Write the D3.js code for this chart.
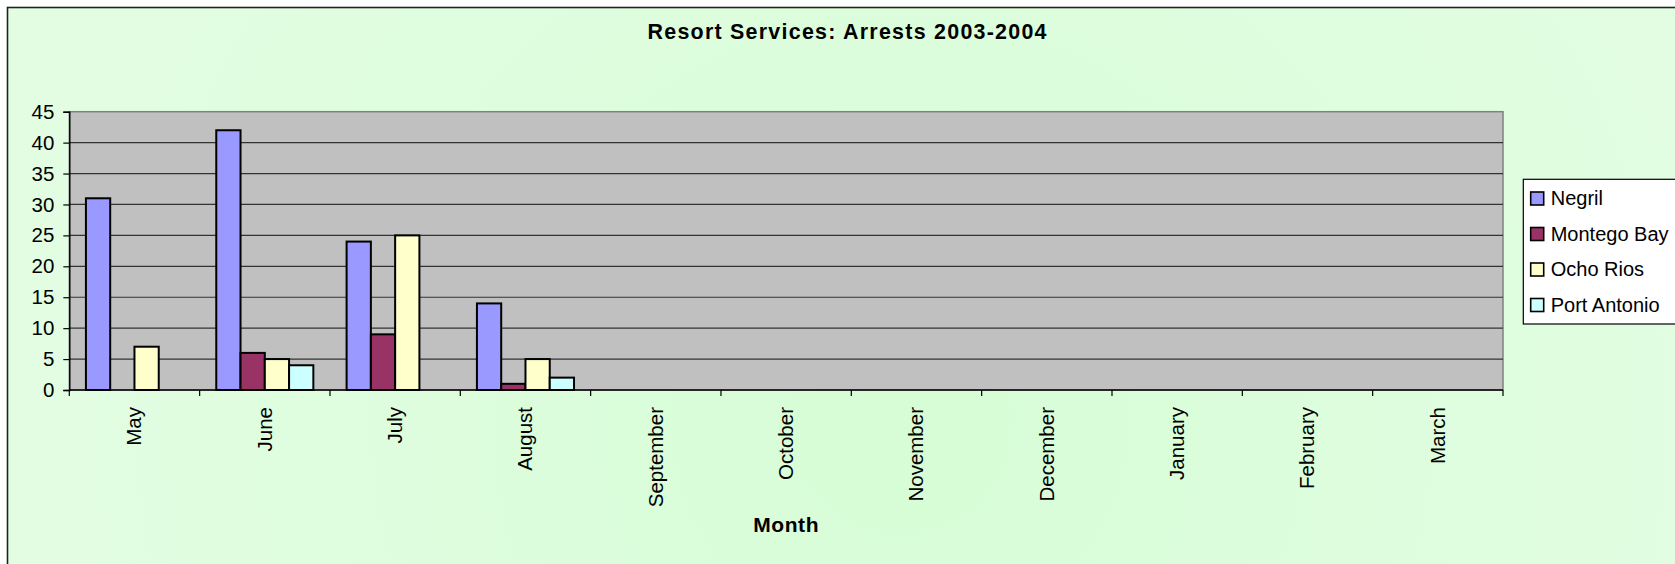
<!DOCTYPE html>
<html>
<head>
<meta charset="utf-8">
<script src="https://cdn.jsdelivr.net/npm/d3@7"></script>
<style>
  html, body { margin: 0; padding: 0; background: #ffffff; }
  svg { display: block; font-family: "Liberation Sans", Arial, sans-serif; }
</style>
</head>
<body>
<svg id="chart" width="1675" height="564"></svg>
<script>
// Monthly arrests by resort area
const months = ["May", "June", "July", "August", "September", "October",
                "November", "December", "January", "February", "March"];
const seriesNames = ["Negril", "Montego Bay", "Ocho Rios", "Port Antonio"];
const negril      = [31, 42, 24, 14, null, null, null, null, null, null, null];
const montegoBay  = [0, 6, 9, 1, null, null, null, null, null, null, null];
const ochoRios    = [7, 5, 25, 5, null, null, null, null, null, null, null];
const portAntonio = [0, 4, 0, 2, null, null, null, null, null, null, null];
const yTicks = [0, 5, 10, 15, 20, 25, 30, 35, 40, 45];
const seriesColors = ["#9999FF", "#993366", "#FFFFCC", "#CCFFFF"];

const chartTitle = "Resort Services: Arrests 2003-2004";
const xTitle = "Month";

const seriesValues = [negril, montegoBay, ochoRios, portAntonio];

const svg = d3.select("#chart");

// Chart area background with a soft green wash
const defs = svg.append("defs");
const grad = defs.append("radialGradient")
  .attr("id", "bgWash")
  .attr("gradientUnits", "userSpaceOnUse")
  .attr("cx", 900).attr("cy", 420).attr("r", 900);
grad.append("stop").attr("offset", "0%").attr("stop-color", "#D6FDD6");
grad.append("stop").attr("offset", "55%").attr("stop-color", "#DEFDDE");
grad.append("stop").attr("offset", "100%").attr("stop-color", "#E3FDE3");

svg.append("rect")
  .attr("x", 7.5).attr("y", 7.5)
  .attr("width", 1700).attr("height", 600)
  .attr("fill", "url(#bgWash)")
  .attr("stroke", "#222")
  .attr("stroke-width", 1.6);

// Plot area geometry
const plot = { left: 69.3, right: 1503, top: 111.7, bottom: 390 };

const x = d3.scaleBand()
  .domain(months)
  .range([plot.left, plot.right])
  .paddingInner(0).paddingOuter(0);

const gapRatio = 1.37;
const barW = x.bandwidth() / (seriesNames.length + gapRatio);
const xSeries = d3.scaleBand()
  .domain(seriesNames)
  .range([barW * gapRatio / 2, barW * gapRatio / 2 + barW * seriesNames.length])
  .padding(0);

const y = d3.scaleLinear()
  .domain([0, 45])
  .range([plot.bottom, plot.top]);

// Grey plot background
svg.append("rect")
  .attr("x", plot.left).attr("y", plot.top)
  .attr("width", plot.right - plot.left)
  .attr("height", plot.bottom - plot.top)
  .attr("fill", "#C0C0C0")
  .attr("stroke", "#808080")
  .attr("stroke-width", 1.5);

// Horizontal gridlines
svg.append("g")
  .selectAll("line")
  .data(yTicks.filter(d => d > 0 && d < 45))
  .join("line")
  .attr("x1", plot.left).attr("x2", plot.right)
  .attr("y1", d => y(d)).attr("y2", d => y(d))
  .attr("stroke", "#333")
  .attr("stroke-width", 1.2);

// Bars
const groups = svg.append("g")
  .selectAll("g")
  .data(months.map((m, i) => ({ month: m, i })))
  .join("g")
  .attr("transform", d => `translate(${x(d.month)},0)`);

groups.selectAll("rect")
  .data(d => seriesNames.map((s, k) => ({ series: s, k, value: seriesValues[k][d.i] }))
    .filter(v => v.value != null && v.value > 0))
  .join("rect")
  .attr("x", d => xSeries(d.series))
  .attr("width", xSeries.bandwidth())
  .attr("y", d => y(d.value))
  .attr("height", d => y(0) - y(d.value))
  .attr("fill", d => seriesColors[d.k])
  .attr("stroke", "#000")
  .attr("stroke-width", 2);

// Y axis
const yAxis = d3.axisLeft(y)
  .tickValues(yTicks)
  .tickSize(6)
  .tickPadding(9)
  .tickFormat(d3.format("d"));
const yG = svg.append("g")
  .attr("transform", `translate(${plot.left},0)`)
  .call(yAxis);
yG.select(".domain").attr("stroke", "#000").attr("stroke-width", 1.4);
yG.selectAll(".tick line").attr("stroke", "#000").attr("stroke-width", 1.2);
yG.selectAll(".tick text")
  .attr("font-size", 20.5)
  .attr("fill", "#000")
  .attr("font-family", "'Liberation Sans', Arial, sans-serif");

// X axis: line and tick marks at category boundaries
const xG = svg.append("g");
xG.append("line")
  .attr("x1", plot.left).attr("x2", plot.right)
  .attr("y1", plot.bottom).attr("y2", plot.bottom)
  .attr("stroke", "#000").attr("stroke-width", 1.6);
const boundaries = months.map(m => x(m)).concat([x.range()[1]]);
xG.selectAll("line.tk")
  .data(boundaries)
  .join("line")
  .attr("class", "tk")
  .attr("x1", d => d).attr("x2", d => d)
  .attr("y1", plot.bottom).attr("y2", plot.bottom + 6)
  .attr("stroke", "#000").attr("stroke-width", 1.2);

// Rotated month labels
xG.selectAll("text")
  .data(months)
  .join("text")
  .attr("transform", d => `translate(${x(d) + x.bandwidth() / 2 + 7},407) rotate(-90)`)
  .attr("text-anchor", "end")
  .attr("font-size", 20.5)
  .attr("fill", "#000")
  .text(d => d);

// Titles
svg.append("text")
  .attr("x", 847).attr("y", 39.3)
  .attr("text-anchor", "middle")
  .attr("font-size", 21.4)
  .attr("font-weight", "bold")
  .attr("textLength", 399)
  .attr("lengthAdjust", "spacing")
  .attr("fill", "#000")
  .text(chartTitle);

svg.append("text")
  .attr("x", (plot.left + plot.right) / 2).attr("y", 532.3)
  .attr("text-anchor", "middle")
  .attr("font-size", 21)
  .attr("font-weight", "bold")
  .attr("letter-spacing", 0.6)
  .attr("fill", "#000")
  .text(xTitle);

// Legend
const legend = svg.append("g");
legend.append("rect")
  .attr("x", 1523.3).attr("y", 179.3)
  .attr("width", 200).attr("height", 144.7)
  .attr("fill", "#ffffff")
  .attr("stroke", "#000")
  .attr("stroke-width", 1.2);

const items = legend.selectAll("g.item")
  .data(seriesNames)
  .join("g")
  .attr("class", "item")
  .attr("transform", (d, i) => `translate(1530.7,${205 + i * 35.5})`);

items.append("rect")
  .attr("x", 0).attr("y", -13)
  .attr("width", 13).attr("height", 13)
  .attr("fill", (d, i) => seriesColors[i])
  .attr("stroke", "#000")
  .attr("stroke-width", 1.6);

items.append("text")
  .attr("x", 20).attr("y", 0)
  .attr("font-size", 20)
  .attr("fill", "#000")
  .text(d => d);
</script>
</body>
</html>
